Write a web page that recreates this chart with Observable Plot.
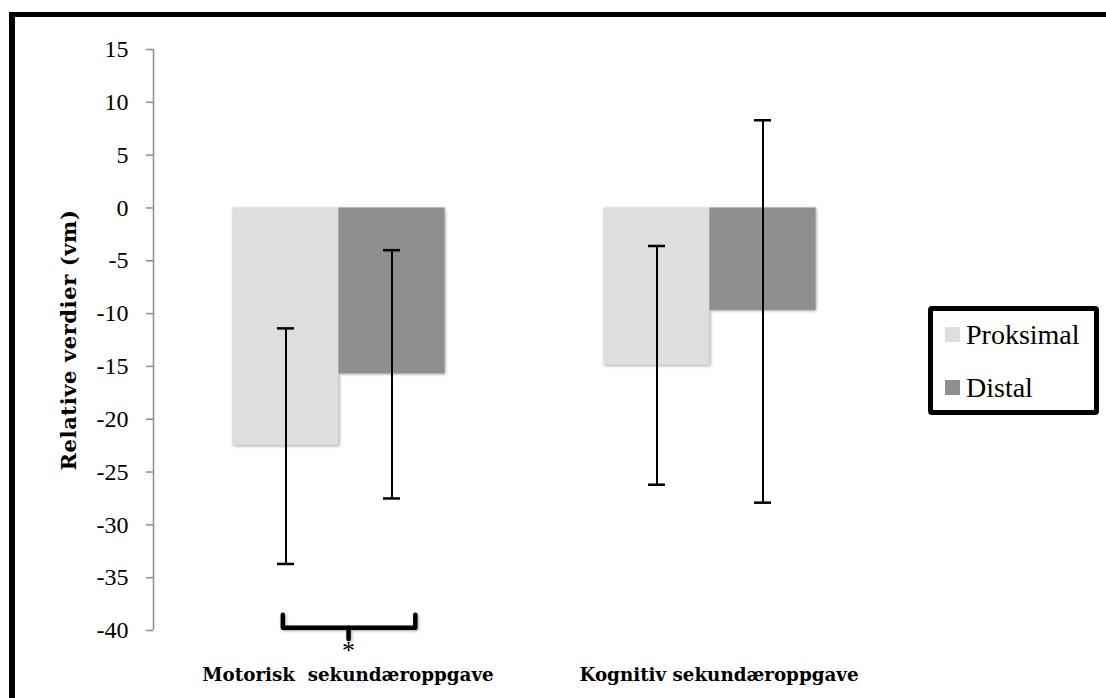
<!DOCTYPE html>
<html><head><meta charset="utf-8">
<script src="https://cdn.jsdelivr.net/npm/d3@7"></script>
<script src="https://cdn.jsdelivr.net/npm/@observablehq/plot@0.6"></script>
<style>
html,body{margin:0;padding:0;background:#fff;overflow:hidden;width:1106px;height:698px}
#wrap{position:relative;width:1106px;height:698px;overflow:hidden}
#frame{position:absolute;left:9px;top:12px;width:1300px;height:900px;border-left:6px solid #000;border-top:5px solid #000;box-sizing:border-box}
#chart{position:absolute;left:0;top:0}
#chart svg text{white-space:pre}
#chart g[aria-label="rect"]{filter:drop-shadow(1px 1px 1.5px rgba(0,0,0,0.35))}
#chart g[aria-label="line"]{filter:drop-shadow(1px 1px 1.5px rgba(0,0,0,0.35))}
#ylabel{position:absolute;left:68px;top:340px;transform:translate(-50%,-50%) rotate(-90deg);font-family:"DejaVu Serif";font-weight:bold;font-size:21px;letter-spacing:0.6px;white-space:nowrap;color:#000}
#legend{position:absolute;left:928px;top:306px;width:171px;height:109px;border:5px solid #000;border-radius:4px;box-sizing:border-box;font-family:"Liberation Serif";font-size:28px;line-height:31px;color:#000}
.item{position:absolute;left:12px;display:flex;align-items:center;white-space:nowrap}
.sw{width:15px;height:15px;margin-right:6px}
</style></head>
<body><div id="wrap"><div id="frame"></div><div id="chart"></div><div id="ylabel"></div><div id="legend"></div></div>
<script>
const groups = ["Motorisk  sekundæroppgave", "Kognitiv sekundæroppgave"];
const series = ["Proksimal", "Distal"];
const seriesColors = ["#dedede", "#8f8f8f"];
const proksimalMean = [-22.5, -14.9];
const distalMean = [-15.7, -9.7];
const proksimalLow = [-33.7, -26.2];
const proksimalHigh = [-11.4, -3.6];
const distalLow = [-27.5, -27.9];
const distalHigh = [-4.0, 8.3];
const yTicks = [15, 10, 5, 0, -5, -10, -15, -20, -25, -30, -35, -40];
const yTitle = "Relative verdier (vm)";
// significance bracket under the motor task group (in data units)
const bracketX = [0.47, 0.47, 1.72, 1.72, 1.09, 1.09];
const bracketY = [-38.5, -39.75, -39.75, -38.5, -39.75, -40.8];
const bracketPart = ["a", "a", "a", "a", "b", "b"];
const starLabel = "*";

const xDomain = [-0.75, 2.75];
const capHalf = 0.08;

const rows = [];
groups.forEach((g, gi) => series.forEach((s, si) => {
  const mean = si === 0 ? proksimalMean[gi] : distalMean[gi];
  const lo = si === 0 ? proksimalLow[gi] : distalLow[gi];
  const hi = si === 0 ? proksimalHigh[gi] : distalHigh[gi];
  rows.push({group: g, series: s, x1: si, x2: si + 1, xc: si + 0.5, mean, lo, hi});
}));
const caps = rows.flatMap(r => [{...r, yv: r.lo}, {...r, yv: r.hi}]);
const bracket = bracketX.map((x, i) => ({group: groups[0], x, y: bracketY[i], z: bracketPart[i]}));
const star = [{group: groups[0], x: bracketX[4], y: -41.95, t: starLabel}];

const chart = Plot.plot({
  width: 1106, height: 698,
  marginTop: 49, marginBottom: 68, marginLeft: 153, marginRight: 211,
  style: {fontFamily: "Liberation Serif", fontSize: "24px", color: "#000", background: "transparent", overflow: "visible"},
  fx: {domain: groups, padding: 0, label: null},
  x: {domain: xDomain, axis: null},
  y: {domain: [-40, 15], label: null},
  color: {domain: series, range: seriesColors},
  marks: [
    Plot.ruleX([{group: groups[0]}], {fx: "group", x: () => xDomain[0], y1: -40, y2: 15, stroke: "#8c8c8c", strokeWidth: 1.5}),
    Plot.axisY({ticks: yTicks, tickSize: 7, tickPadding: 18, stroke: "#8c8c8c", strokeWidth: 1.5, fill: "#000", label: null, tickFormat: d => String(d), fontSize: 24, fontFamily: "Liberation Serif"}),
    Plot.axisFx({anchor: "bottom", tickSize: 0, tickPadding: 37, dx: 9, label: null, fontWeight: "bold", fontSize: 18.3, fontFamily: "DejaVu Serif"}),
    Plot.rectY(rows, {fx: "group", x1: "x1", x2: "x2", y1: () => 0, y2: "mean", fill: "series"}),
    Plot.ruleX(rows, {fx: "group", x: "xc", y1: "lo", y2: "hi", stroke: "#000", strokeWidth: 2}),
    Plot.ruleY(caps, {fx: "group", y: "yv", x1: d => d.xc - capHalf, x2: d => d.xc + capHalf, stroke: "#000", strokeWidth: 2.5}),
    Plot.line(bracket, {fx: "group", x: "x", y: "y", z: "z", stroke: "#000", strokeWidth: 4.5, strokeLinejoin: "round", strokeLinecap: "round"}),
    Plot.text(star, {fx: "group", x: "x", y: "y", text: "t", fontSize: 26, fill: "#000", fontFamily: "Liberation Serif"})
  ]
});
document.getElementById("chart").appendChild(chart);
document.getElementById("ylabel").textContent = yTitle;
const leg = document.getElementById("legend");
const tops = [8, 61];
series.forEach((s, i) => {
  const it = document.createElement("div");
  it.className = "item";
  it.style.top = tops[i] + "px";
  const sw = document.createElement("div");
  sw.className = "sw";
  sw.style.background = seriesColors[i];
  it.appendChild(sw);
  const t = document.createElement("span");
  t.textContent = s;
  it.appendChild(t);
  leg.appendChild(it);
});
</script></body></html>
